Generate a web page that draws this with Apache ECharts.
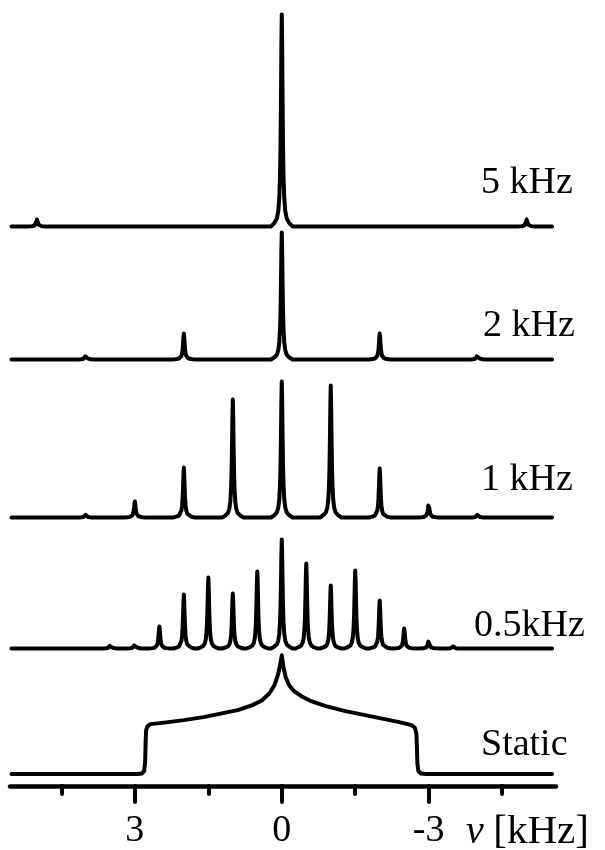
<!DOCTYPE html>
<html><head><meta charset="utf-8">
<script src="https://cdn.jsdelivr.net/npm/echarts@6/dist/echarts.min.js"></script>
<style>html,body{margin:0;padding:0;background:#fff}#c{width:605px;height:850px}</style>
</head><body><div id="c"></div>
<script>
// ---- data (frequency in kHz, intensity in arbitrary units) ----
const spectrumLabels = ['5 kHz', '2 kHz', '1 kHz', '0.5kHz', 'Static'];
const pos5k = [5, 0, -5];
const amp5k = [7, 212, 7];
const pos2k = [4, 2, 0, -2, -4];
const amp2k = [5, 26, 127, 26, 5];
const pos1k = [4, 3, 2, 1, 0, -1, -2, -3, -4];
const amp1k = [3, 16, 50, 118, 136, 132, 49, 14, 3];
const pos05k = [3.5, 3, 2.5, 2, 1.5, 1, 0.5, 0, -0.5, -1, -1.5, -2, -2.5, -3, -3.5];
const amp05k = [4, 5, 22, 54, 71, 55, 77, 109, 85, 63, 78, 48, 20, 8, 2];
const staticShift = [5.52, 2.95, 2.86, 2.81, 2.79, 2.78, 2.77, 2.74, 2.68, 2.4, 2.0, 1.6, 1.2, 0.9, 0.6, 0.4, 0.25, 0.15, 0.08, 0.03, 0,
  -0.03, -0.08, -0.15, -0.25, -0.4, -0.6, -0.9, -1.3, -1.7, -2.1, -2.4, -2.65, -2.72, -2.75, -2.76, -2.77, -2.79, -2.84, -2.95, -5.52];
const staticAmp = [0, 0, 0.5, 3, 12, 32, 44, 48, 50, 51.5, 54, 57, 61, 64, 69, 74, 81, 89, 99, 110, 119,
  108, 97, 89, 83, 78, 73, 68, 63, 59, 55, 52, 49, 46, 40, 26, 10, 3, 0.5, 0, 0];
const spectrumRange = [5.52, -5.52];
const majorTicks = [3, 0, -3];
const minorTicks = [4.5, 1.5, -1.5, -4.5];
const axisUnit = 'kHz';

// ---- style / layout ----
const PEAK_D = [0.22, 0.15, 0.1, 0.07, 0.05, 0.035, 0.025, 0.015, 0.008, 0];
const PEAK_F = [0, 0.0175, 0.038, 0.075, 0.138, 0.246, 0.39, 0.64, 0.86, 1];
const baselines = [226.5, 359.5, 517.5, 648.5, 774.5];
const labelXY = [[481, 183], [483, 326], [481, 480], [474, 626], [481, 745]];
const FONT = "'Liberation Serif','Times New Roman',serif";
const GH = 220;
const LW = 4;

function peakLine(pos, amp) {
  const pts = [[spectrumRange[0], 0], [spectrumRange[1], 0]];
  pos.forEach((p, i) => {
    PEAK_D.forEach((d, k) => {
      pts.push([p + d, amp[i] * PEAK_F[k]]);
      if (d !== 0) pts.push([p - d, amp[i] * PEAK_F[k]]);
    });
  });
  pts.sort((a, b) => b[0] - a[0]);
  return pts;
}
const seriesData = [
  peakLine(pos5k, amp5k),
  peakLine(pos2k, amp2k),
  peakLine(pos1k, amp1k),
  peakLine(pos05k, amp05k),
  staticShift.map((x, i) => [x, staticAmp[i]])
];

const grids = [], xAxes = [], yAxes = [], series = [];
seriesData.forEach((d, i) => {
  grids.push({ left: 10, width: 546, top: baselines[i] - GH, height: GH });
  const isBottom = i === 4;
  xAxes.push({
    gridIndex: i, type: 'value', min: -5.6, max: 5.55, inverse: true,
    show: isBottom, position: 'bottom', offset: 12,
    axisLine: { show: true, onZero: false, lineStyle: { color: '#000', width: 4.5, cap: 'round' } },
    axisTick: { show: true, customValues: majorTicks, length: 16, lineStyle: { color: '#000', width: 4, cap: 'round' } },
    axisLabel: { show: true, customValues: majorTicks, margin: 26, color: '#000', fontFamily: FONT, fontSize: 38 },
    splitLine: { show: false }
  });
  yAxes.push({ gridIndex: i, type: 'value', min: 0, max: GH, show: false, splitLine: { show: false } });
  series.push({
    type: 'line', xAxisIndex: i, yAxisIndex: i, data: d, showSymbol: false, symbol: 'none',
    clip: false, silent: true,
    lineStyle: { color: '#000', width: LW, join: 'round', cap: 'round' }
  });
});
// minor ticks axis
xAxes.push({
  gridIndex: 4, type: 'value', min: -5.6, max: 5.55, inverse: true, position: 'bottom', offset: 12,
  axisLine: { show: false, onZero: false },
  axisTick: { show: true, customValues: minorTicks, length: 8, lineStyle: { color: '#000', width: 4, cap: 'round' } },
  axisLabel: { show: false }, splitLine: { show: false }
});

const graphics = spectrumLabels.map((t, i) => ({
  type: 'text', x: labelXY[i][0], y: labelXY[i][1], silent: true,
  style: { text: t, fill: '#000', font: '38px ' + FONT, align: 'left', verticalAlign: 'middle' }
}));
graphics.push({
  type: 'text', x: 466, y: 832, silent: true,
  style: {
    text: '{i|ν} {b|[' + axisUnit + ']}', fill: '#000', font: '38px ' + FONT, align: 'left', verticalAlign: 'middle',
    rich: {
      i: { fontStyle: 'italic', fontSize: 40, fontFamily: FONT, fill: '#000' },
      b: { fontSize: 41, fontFamily: FONT, fill: '#000' }
    }
  }
});

const chart = echarts.init(document.getElementById('c'), null, { renderer: 'canvas' });
chart.setOption({
  animation: false,
  backgroundColor: '#fff',
  grid: grids, xAxis: xAxes, yAxis: yAxes, series: series,
  graphic: graphics
});
</script></body></html>
